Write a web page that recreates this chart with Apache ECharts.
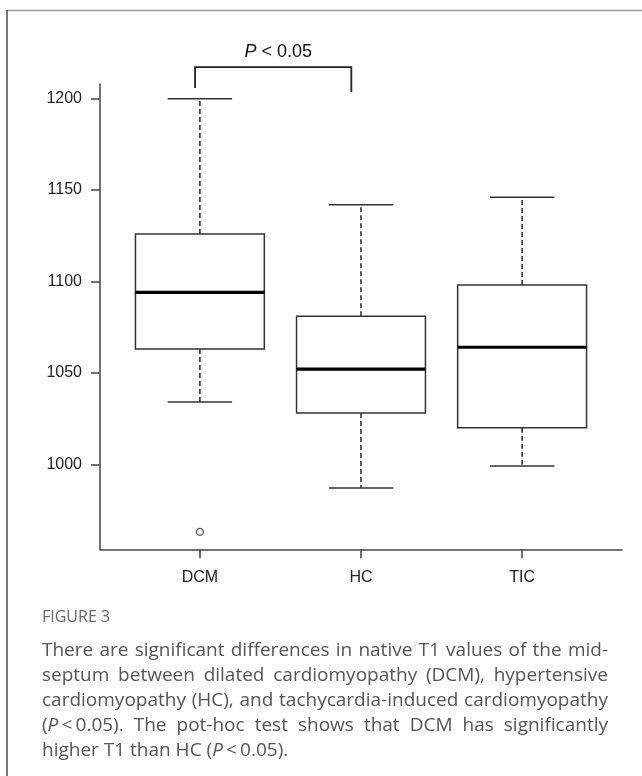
<!DOCTYPE html>
<html><head><meta charset="utf-8">
<script src="https://cdn.jsdelivr.net/npm/echarts@6/dist/echarts.min.js"></script>
<style>html,body{margin:0;padding:0;background:#fff}#c{width:642px;height:776px}</style>
</head><body><div id="c"></div>
<script>
// ---- data ----
const categories = ['DCM', 'HC', 'TIC'];
// [lower whisker, Q1, median, Q3, upper whisker]
const dcmStats = [1034, 1063, 1094, 1126, 1200];
const hcStats  = [987, 1028, 1052, 1081, 1142];
const ticStats = [999, 1020, 1064, 1098, 1146];
const outliers = [[1, 963]];
const yTicks = [1000, 1050, 1100, 1150, 1200];
// significance bracket: [x left, x right, y top, y left foot, y right foot]
const bracket = [[0.97, 1.94, 1217.2, 1205.8, 1203.6]];
const bracketLabel = '*P* < 0.05';
const captionTitle = 'FIGURE 3';
const captionLines = [
  'There are significant differences in native T1 values of the mid-',
  'septum between dilated cardiomyopathy (DCM), hypertensive',
  'cardiomyopathy (HC), and tachycardia-induced cardiomyopathy',
  '(*P*\u2009<\u20090.05). The pot-hoc test shows that DCM has significantly',
  'higher T1 than HC (*P*\u2009<\u20090.05).'
];

const boxData = [dcmStats, hcStats, ticStats].map((s, i) => [i + 1].concat(s));

const LINE = '#333';
const chart = echarts.init(document.getElementById('c'));

function boxRender(params, api) {
  const x = api.value(0), lw = api.value(1), q1 = api.value(2), med = api.value(3), q3 = api.value(4), uw = api.value(5);
  const hw = 0.4, cw = 0.2;
  const c = (a, b) => api.coord([a, b]);
  const p1 = c(x - hw, q3), p2 = c(x + hw, q1);
  const ln = (a, b, style) => ({type: 'line', shape: {x1: a[0], y1: a[1], x2: b[0], y2: b[1]}, style: style});
  const solid = {stroke: LINE, lineWidth: 1.5};
  const dashed = {stroke: LINE, lineWidth: 1.6, lineDash: [5, 3]};
  return {type: 'group', children: [
    ln(c(x, q3), c(x, uw), dashed),
    ln(c(x, q1), c(x, lw), dashed),
    ln(c(x - cw, uw), c(x + cw, uw), solid),
    ln(c(x - cw, lw), c(x + cw, lw), solid),
    {type: 'rect', shape: {x: p1[0], y: p1[1], width: p2[0] - p1[0], height: p2[1] - p1[1]}, style: {fill: '#fff', stroke: LINE, lineWidth: 1.5}},
    ln(c(x - hw, med), c(x + hw, med), {stroke: '#000', lineWidth: 3.2})
  ]};
}

function richOf(tok, size, fam, fill) {
  const parts = tok.split('*');
  if (parts.length === 1) return {text: tok};
  let t = '';
  parts.forEach((p, k) => { if (p) t += '{' + (k % 2 ? 'i' : 'n') + '|' + p + '}'; });
  return {text: t, rich: {
    n: {fontSize: size, fontFamily: fam, fill: fill},
    i: {fontSize: size, fontFamily: fam, fontStyle: 'italic', fill: fill}
  }};
}

function bracketRender(params, api) {
  const a = api.coord([api.value(0), api.value(2)]);
  const b = api.coord([api.value(1), api.value(2)]);
  const fa = api.coord([api.value(0), api.value(3)]);
  const fb = api.coord([api.value(1), api.value(4)]);
  const r = richOf(bracketLabel, 18, '"Liberation Sans", Arial, sans-serif', '#111');
  return {type: 'group', children: [
    {type: 'polyline', shape: {points: [fa, a, b, fb]}, style: {stroke: '#222', lineWidth: 1.8, fill: null}},
    {type: 'text', x: (a[0] + b[0]) / 2 + 5, y: a[1] - 15, style: Object.assign({
      fontSize: 18, fontFamily: '"Liberation Sans", Arial, sans-serif', fill: '#111',
      align: 'center', verticalAlign: 'middle', textAlign: 'center', textVerticalAlign: 'middle'}, r)}
  ]};
}

// caption with justified lines
const capFam = '"Open Sans", "Noto Sans", sans-serif';
const capSize = 19;
const capFill = '#555';
const mctx = document.createElement('canvas').getContext('2d');
function tokWidth(tok) {
  let w = 0;
  tok.split('*').forEach((p, k) => {
    mctx.font = (k % 2 ? 'italic ' : '') + capSize + 'px ' + capFam;
    w += mctx.measureText(p).width;
  });
  return w;
}
const capLeft = 42, capRight = 608, capTop = 651, capStep = 25;
const captionEls = [];
captionLines.forEach((line, li) => {
  const toks = line.split(' ');
  const ws = toks.map(tokWidth);
  const total = ws.reduce((s, v) => s + v, 0);
  mctx.font = capSize + 'px ' + capFam;
  const last = li === captionLines.length - 1;
  const gap = last ? mctx.measureText(' ').width : (capRight - capLeft - total) / (toks.length - 1);
  let x = capLeft;
  toks.forEach((t, k) => {
    const r = richOf(t, capSize, capFam, capFill);
    captionEls.push({type: 'text', x: x, y: capTop + li * capStep, silent: true,
      style: Object.assign({fontSize: capSize, fontFamily: capFam, fill: capFill,
        align: 'left', verticalAlign: 'middle', textAlign: 'left', textVerticalAlign: 'middle'}, r)});
    x += ws[k] + gap;
  });
});
captionEls.push({type: 'text', x: capLeft, y: 617, style: {text: captionTitle, fontSize: 16, fontFamily: capFam,
  fill: '#666', align: 'left', verticalAlign: 'middle', textAlign: 'left', textVerticalAlign: 'middle'}});
captionEls.push({type: 'line', shape: {x1: 7, y1: 10.5, x2: 642, y2: 10.5}, style: {stroke: '#9c9c9c', lineWidth: 1.6}});
captionEls.push({type: 'line', shape: {x1: 7, y1: 10, x2: 7, y2: 776}, style: {stroke: '#555', lineWidth: 1.6}});

const axisFont = {fontSize: 16, fontFamily: '"Liberation Sans", Arial, sans-serif', color: '#222'};
chart.setOption({
  animation: false,
  backgroundColor: '#fff',
  grid: {left: 100, right: 20, top: 84, bottom: 226.7},
  xAxis: {
    type: 'value', min: 0.38, max: 3.62, splitLine: {show: false},
    axisLine: {onZero: false, lineStyle: {color: '#444', width: 1.5}},
    axisTick: {customValues: [1, 2, 3], length: 9, lineStyle: {color: '#444', width: 1.5}},
    axisLabel: Object.assign({customValues: [1, 2, 3], margin: 20, formatter: v => categories[Math.round(v) - 1]}, axisFont)
  },
  yAxis: {
    type: 'value', min: 953.5, max: 1208, splitLine: {show: false},
    axisLine: {show: true, onZero: false, lineStyle: {color: '#444', width: 1.5}},
    axisTick: {show: true, customValues: yTicks, length: 9, lineStyle: {color: '#444', width: 1.5}},
    axisLabel: Object.assign({customValues: yTicks, margin: 18, formatter: v => String(v)}, axisFont)
  },
  graphic: {elements: captionEls},
  series: [
    {type: 'custom', data: boxData, renderItem: boxRender, clip: false, silent: true},
    {type: 'scatter', data: outliers, symbol: 'circle', symbolSize: 7, silent: true,
      itemStyle: {color: '#fff', borderColor: LINE, borderWidth: 1.3}},
    {type: 'custom', data: bracket, renderItem: bracketRender, clip: false, silent: true}
  ]
});
</script></body></html>
